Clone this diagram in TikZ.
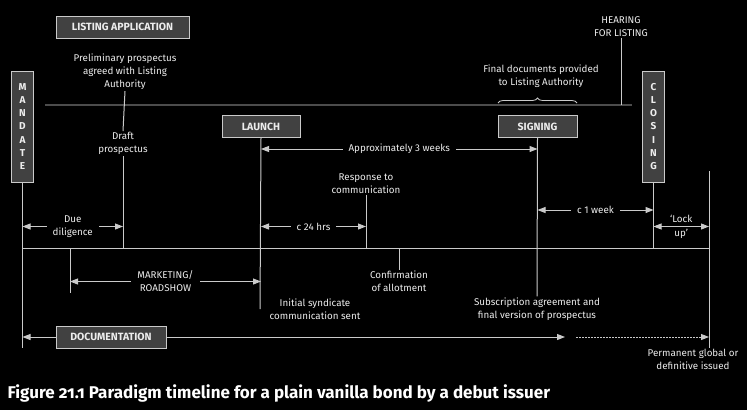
\documentclass[tikz,border=0pt]{standalone}
\usepackage{fontspec}
\setmainfont{Fira Sans}
\newfontfamily\capfont[Numbers=OldStyle]{Fira Sans}
\usetikzlibrary{arrows.meta,decorations.pathreplacing}

\definecolor{linegray}{HTML}{CACACA}
\definecolor{boxgray}{HTML}{414141}
\definecolor{bargray}{HTML}{4C4C4C}
\definecolor{textwhite}{HTML}{EDEDED}

\tikzset{
    stage/.style={draw=linegray,fill=boxgray,text=textwhite,font=\bfseries\fontsize{10.5}{13}\selectfont,inner sep=0pt,minimum height=22pt,line width=1pt},
    vstage/.style={stage,minimum width=22pt,minimum height=111pt,align=center,font=\bfseries\fontsize{10}{13.3}\selectfont},
    lbl/.style={text=textwhite,font=\fontsize{9.8}{13}\selectfont,align=center,inner sep=1pt},
    gap/.style={lbl,fill=black,inner xsep=6pt,inner ysep=0pt},
    tick/.style={draw=linegray,line width=1pt},
    span/.style={tick,{Triangle[length=8pt,width=6pt]}-{Triangle[length=8pt,width=6pt]}},
    onearrow/.style={tick,-{Triangle[length=8pt,width=6pt]}},
}

\begin{document}
\begin{tikzpicture}[x=1pt,y=-1pt]

        \fill [black] (0, 0) rectangle (747, 410);
        \useasboundingbox (0, 0) rectangle (747, 410);

        % nodes
        \node [stage,minimum width=133pt] (listing) at (122.5, 27) {LISTING APPLICATION};
        \node [stage,minimum width=78pt] (launch) at (261, 126.5) {LAUNCH};
        \node [stage,minimum width=79pt] (signing) at (537.5, 126.5) {SIGNING};
        \node [stage,minimum width=110pt] (docs) at (111, 337) {DOCUMENTATION};
        \node [vstage] (mandate) at (22.5, 126.5) {M\\A\\N\\D\\A\\T\\E};
        \node [vstage] (closing) at (653.5, 126.5) {C\\L\\O\\S\\I\\N\\G};

        \node [lbl] (prelim) at (125, 72) {Preliminary prospectus\\agreed with Listing\\Authority};
        \node [lbl] (draft) at (123, 143.5) {Draft\\prospectus};
        \node [lbl] (hearing) at (621, 26.5) {HEARING\\FOR LISTING};
        \node [lbl] (final) at (541, 76.5) {Final documents provided\\to Listing Authority};
        \node [lbl] (response) at (366, 183.5) {Response to\\communication};
        \node [lbl] (confirm) at (399, 281.5) {Confirmation\\of allotment};
        \node [lbl] (initial) at (315, 309) {Initial syndicate\\communication sent};
        \node [lbl] (subscr) at (537, 309) {Subscription agreement and\\final version of prospectus};
        \node [lbl] (permanent) at (693, 359.5) {Permanent global or\\definitive issued};

        \node [anchor=base west,text=white,font=\capfont\bfseries\fontsize{17}{20}\selectfont] (caption) at (4, 398)
            {Figure 21.1 Paradigm timeline for a plain vanilla bond by a debut issuer};

        % levels and ends
        \coordinate (barL) at (45, 105);
        \coordinate (barR) at (632, 105);
        \coordinate (tlR) at (709, 248);
        \coordinate (yApprox) at (0, 149);
        \coordinate (yWeek) at (0, 210);
        \coordinate (yDue) at (0, 226.5);
        \coordinate (yMkt) at (0, 281.5);
        \coordinate (yDoc) at (0, 337);
        \coordinate (yEnd) at (0, 348);
        \coordinate (lockTop) at (709, 171);
        \coordinate (mktTop) at (70, 248);
        \coordinate (mktEnd) at (70, 293);
        \coordinate (launchEnd) at (260, 309);
        \coordinate (docArrow) at (565, 337);
        \coordinate (docDash) at (576, 337);
        \coordinate (braceL) at (498, 103);
        \coordinate (braceR) at (577, 103);

        % lines
        \draw [draw=bargray,line width=2pt] (barL) -- (barR);
        \draw [tick] (mandate.south |- tlR) -- (tlR);
        \draw [tick] (mandate.south) -- (mandate.south |- yEnd);
        \draw [tick] (prelim.south) -- (draft.north);
        \draw [tick] (draft.south) -- (draft.south |- tlR);
        \draw [tick] (launch.south) -- (launchEnd);
        \draw [tick] (response.south) -- (response.south |- tlR);
        \draw [tick] (signing.south) -- (subscr.north);
        \draw [tick] (closing.south) -- (closing.south |- tlR);
        \draw [tick] (lockTop) -- (lockTop |- yEnd);
        \draw [tick] (mktTop) -- (mktEnd);
        \draw [tick] (confirm.north |- tlR) -- (confirm.north);
        \draw [tick] (hearing.south) -- (hearing.south |- barL);
        \draw [draw=linegray,line width=0.8pt,decorate,decoration={brace,amplitude=5pt}] (braceL) -- (braceR);

        % arrows
        \draw [span] (launch.south |- yApprox) -- node [gap] {Approximately 3 weeks} (signing.south |- yApprox);
        \draw [span] (mandate.south |- yDue) -- node [gap] {Due\\diligence} (draft.south |- yDue);
        \draw [span] (launch.south |- yDue) -- node [gap] {c 24 hrs} (response.south |- yDue);
        \draw [span] (signing.south |- yWeek) -- node [gap] {c 1 week} (closing.south |- yWeek);
        \draw [span] (closing.south |- yDue) -- node [lbl,font=\fontsize{9.8}{14}\selectfont] {`Lock\\up'} (lockTop |- yDue);
        \draw [span] (mktTop |- yMkt) -- node [gap] {MARKETING/\\ROADSHOW} (launch.south |- yMkt);
        \draw [onearrow] (docs.west) -- (mandate.south |- yDoc);
        \draw [onearrow] (docs.east) -- (docArrow);
        \draw [onearrow,dashed,dash pattern=on 2pt off 1pt] (docDash) -- (lockTop |- yDoc);
    \end{tikzpicture}
\end{document}
